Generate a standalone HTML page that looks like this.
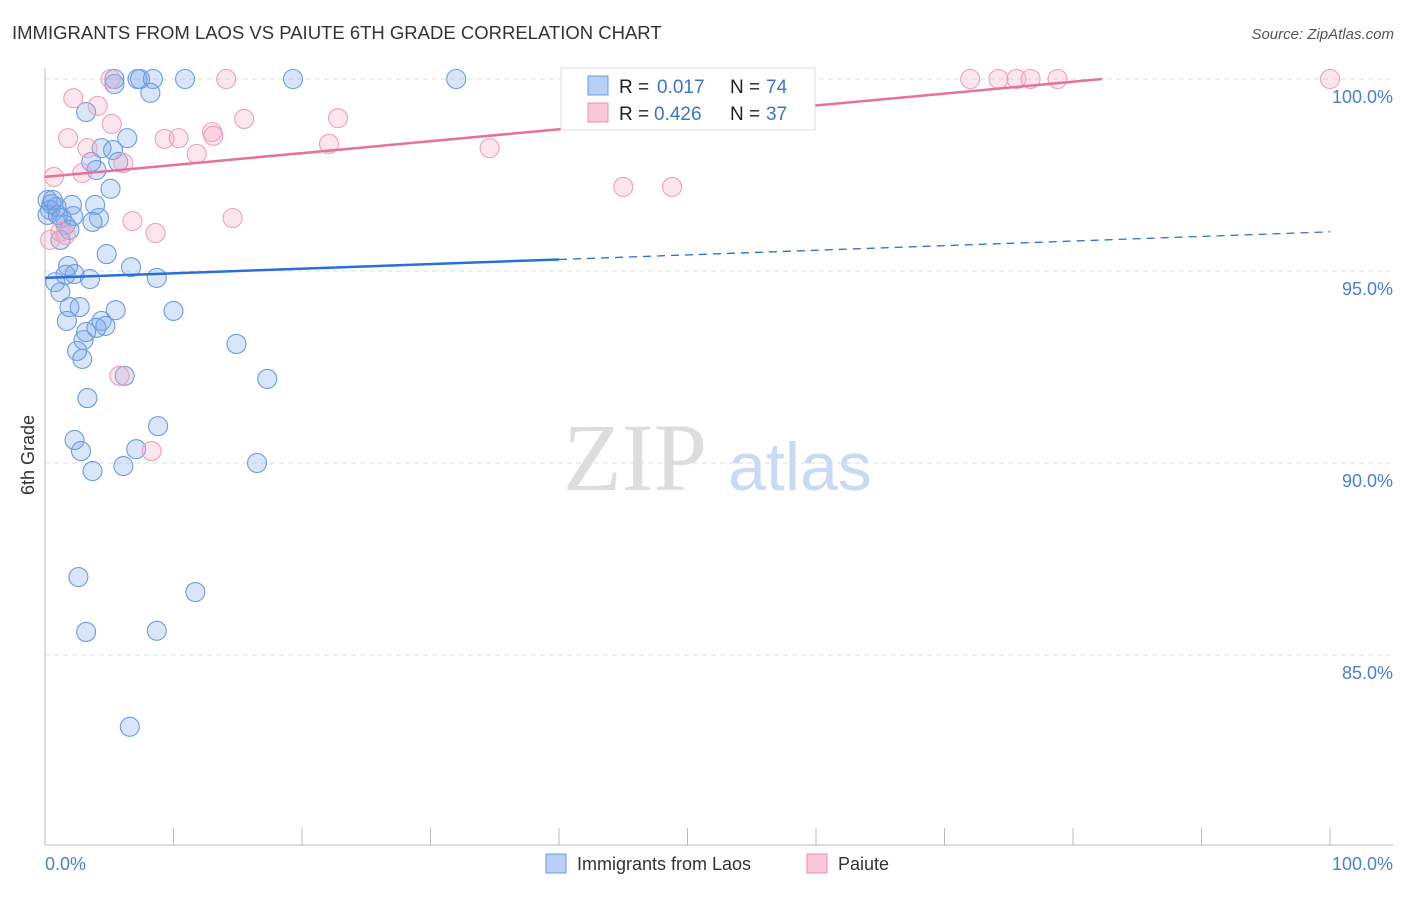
<!DOCTYPE html>
<html><head><meta charset="utf-8"><style>
body{margin:0;background:#fff;font-family:"Liberation Sans",sans-serif}
</style></head><body>
<svg width="1406" height="892" xmlns="http://www.w3.org/2000/svg" style="font-family:'Liberation Sans',sans-serif">
<text x="12" y="39" font-size="18.5" fill="#333">IMMIGRANTS FROM LAOS VS PAIUTE 6TH GRADE CORRELATION CHART</text>
<text x="1394" y="39" font-size="15" fill="#555" text-anchor="end" font-style="italic">Source: ZipAtlas.com</text>
<g id="grid"></g>
<g id="wm">
<text x="635" y="490" font-size="96" fill="#ddd" text-anchor="middle" font-family="Liberation Serif,serif">ZIP</text>
<text x="800" y="490" font-size="68" fill="#c9daf3" text-anchor="middle">atlas</text>
</g>
<g id="axes"></g>
<g id="marks"></g>
<text x="34" y="455" font-size="18" fill="#333" text-anchor="middle" transform="rotate(-90 34 455)">6th Grade</text>
<text x="45" y="870" font-size="18" fill="#4a7fd4">0.0%</text>
<text x="1393" y="870" font-size="18" fill="#4a7fd4" text-anchor="end">100.0%</text>
<g>
<rect x="561" y="68" width="254" height="62" fill="#fff" stroke="#ddd"/>
<rect x="588" y="76" width="20" height="19" fill="#b8d0f5" stroke="#6b9ae0"/>
<rect x="588" y="103" width="20" height="19" fill="#f9c7d6" stroke="#e890aa"/>
<text x="619" y="93" font-size="19" fill="#222">R =</text>
<text x="657" y="93" font-size="19" fill="#3a73d0">0.017</text>
<text x="730" y="93" font-size="19" fill="#222">N =</text>
<text x="766" y="93" font-size="19" fill="#3a73d0">74</text>
<text x="619" y="120" font-size="19" fill="#222">R =</text>
<text x="654" y="120" font-size="19" fill="#3a73d0">0.426</text>
<text x="730" y="120" font-size="19" fill="#222">N =</text>
<text x="766" y="120" font-size="19" fill="#3a73d0">37</text>
</g>
<g>
<rect x="546" y="854" width="20" height="19" fill="#b8d0f5" stroke="#6b9ae0"/>
<text x="577" y="870" font-size="18" fill="#333">Immigrants from Laos</text>
<rect x="807" y="854" width="20" height="19" fill="#f9c7d6" stroke="#e890aa"/>
<text x="838" y="870" font-size="18" fill="#333">Paiute</text>
</g>
</svg>
<script>
const yTicks=[100,95,90,85];
const yTickLabels=["100.0%","95.0%","90.0%","85.0%"];
const xTicks=[0,10,20,30,40,50,60,70,80,90,100];
const blueX=[5.4,7.4,7.2,8.4,10.9,19.3,32.0,5.4,8.2,3.2,6.4,4.4,5.3,3.6,5.7,4.0,5.1,0.2,0.5,0.9,3.9,2.1,1.3,2.2,4.2,3.7,1.6,1.9,1.2,0.4,4.8,6.7,1.8,1.6,2.3,3.5,8.7,0.8,1.2,1.9,2.7,5.5,10.0,1.7,4.4,4.7,4.0,3.2,3.0,2.5,2.9,14.9,6.2,17.3,3.3,8.8,2.3,7.1,2.8,16.5,6.1,3.7,2.6,11.7,3.2,8.7,6.6,0.2,0.6,1.0];
const blueY=[100,100,100,100,100,100,100,99.87,99.64,99.14,98.46,98.2,98.15,97.84,97.84,97.63,97.14,96.85,96.74,96.67,96.72,96.72,96.38,96.43,96.38,96.28,96.2,96.07,95.81,96.59,95.44,95.1,95.13,94.9,94.92,94.79,94.82,94.71,94.45,94.06,94.06,93.98,93.96,93.7,93.7,93.57,93.52,93.41,93.2,92.92,92.71,93.1,92.27,92.19,91.69,90.96,90.6,90.36,90.31,90.0,89.92,89.79,87.03,86.64,85.6,85.63,83.13,96.46,96.85,96.46];
const pinkX=[5.1,14.1,45.7,46.1,72.0,74.2,75.6,76.7,78.8,100,2.2,4.1,1.8,5.2,9.3,10.4,13.0,15.5,22.8,11.8,13.1,3.3,22.1,34.6,6.1,2.9,0.7,45.0,48.8,14.6,6.8,8.6,1.2,0.4,5.8,8.3,1.6];
const pinkY=[100,100,100,100,100,100,100,100,100,100,99.5,99.3,98.46,98.83,98.44,98.46,98.62,98.96,98.98,98.05,98.52,98.2,98.31,98.2,97.81,97.55,97.45,97.19,97.19,96.38,96.3,95.99,96.02,95.81,92.27,90.31,95.94];
const blueTrend=[94.82,96.02];
const pinkTrend=[97.45,100.55];
const NS="http://www.w3.org/2000/svg";
const X=v=>45+v*12.85, Y=v=>79+(100-v)*38.4;
function mk(t,a,p){const e=document.createElementNS(NS,t);for(const k in a)e.setAttribute(k,a[k]);p.appendChild(e);return e;}
const grid=document.getElementById('grid'),axes=document.getElementById('axes'),marks=document.getElementById('marks');
yTicks.forEach((t,i)=>{
 const l=mk('line',{x1:45,x2:1393,y1:Y(t),y2:Y(t),stroke:'#ddd','stroke-dasharray':'5,4'},grid);
 
 
 const tx=mk('text',{x:1393,y:Y(t)+24,'font-size':18,fill:'#4a7fd4','text-anchor':'end'},grid);
 tx.textContent=yTickLabels[i];
 
 
});
let a=mk('line',{x1:45,x2:45,y1:68,y2:845,stroke:'#bbb'},axes);


a=mk('line',{x1:45,x2:1393,y1:845,y2:845,stroke:'#bbb'},axes);


xTicks.forEach(t=>{const l=mk('line',{x1:X(t),x2:X(t),y1:828,y2:845,stroke:'#bbb'},axes);
 
 });
blueX.forEach((v,i)=>{const c=mk('circle',{cx:X(v),cy:Y(blueY[i]),r:9.5,fill:'rgba(120,165,235,0.28)',stroke:'#6d9be0','stroke-width':1.1},marks);
 
 });
pinkX.forEach((v,i)=>{const c=mk('circle',{cx:X(v),cy:Y(pinkY[i]),r:9.5,fill:'rgba(245,165,195,0.28)',stroke:'#eda0b8','stroke-width':1.1},marks);
 
 });
const bAt=x=>blueTrend[0]+(blueTrend[1]-blueTrend[0])*x/100;
let t=mk('line',{x1:X(0),y1:Y(bAt(0)),x2:X(40),y2:Y(bAt(40)),stroke:'#2a6fd6','stroke-width':2.5},marks);


t=mk('line',{x1:X(40),y1:Y(bAt(40)),x2:X(100),y2:Y(bAt(100)),stroke:'#2a6fd6','stroke-width':1.3,'stroke-dasharray':'8,6'},marks);


const pAt=x=>pinkTrend[0]+(pinkTrend[1]-pinkTrend[0])*x/100;
const pEnd=(100-pinkTrend[0])/(pinkTrend[1]-pinkTrend[0])*100;
t=mk('line',{x1:X(0),y1:Y(pAt(0)),x2:X(pEnd),y2:Y(100),stroke:'#e8709a','stroke-width':2.5},marks);


</script>
</body></html>
